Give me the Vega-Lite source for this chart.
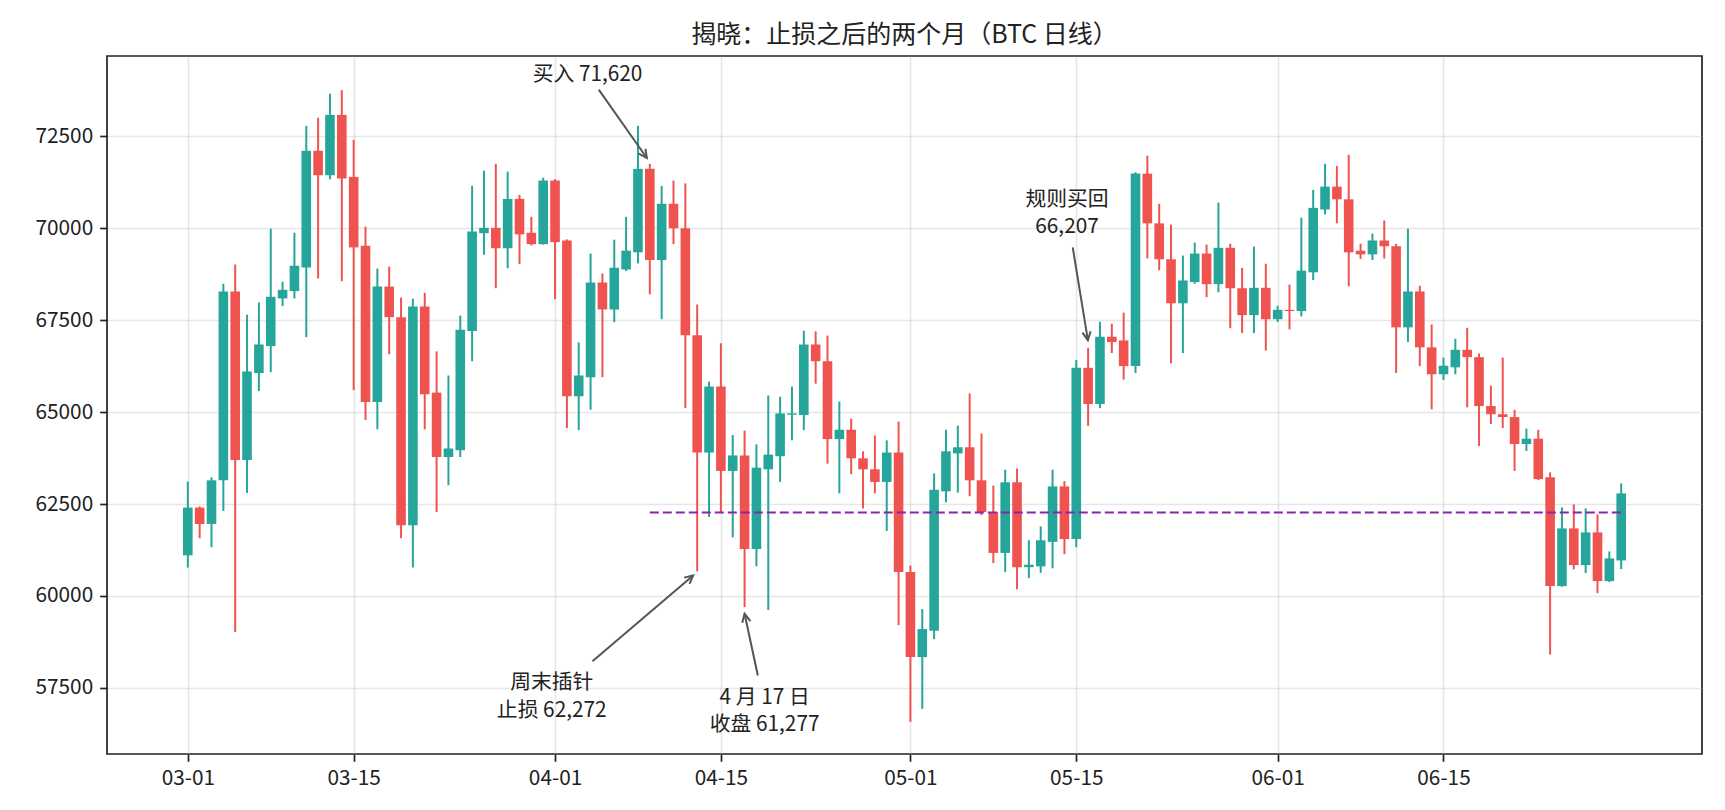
{
  "$schema": "https://vega.github.io/schema/vega-lite/v6.json",
  "width": 1595,
  "height": 698,
  "autosize": "none",
  "padding": {"left": 107, "top": 56, "right": 23, "bottom": 56},
  "background": "white",
  "title": {
    "text": "揭晓：止损之后的两个月（BTC 日线）",
    "font": "Noto Sans CJK SC",
    "fontSize": 25,
    "fontWeight": "normal",
    "color": "#222",
    "anchor": "middle",
    "offset": 8
  },
  "datasets": {
    "btc": [
      {"d": "2024-03-01", "o": 61104, "h": 63113, "l": 60772, "c": 62403},
      {"d": "2024-03-02", "o": 62403, "h": 62436, "l": 61570, "c": 61959},
      {"d": "2024-03-03", "o": 61959, "h": 63224, "l": 61326, "c": 63146},
      {"d": "2024-03-04", "o": 63146, "h": 68494, "l": 62314, "c": 68284},
      {"d": "2024-03-05", "o": 68284, "h": 69016, "l": 59018, "c": 63701},
      {"d": "2024-03-06", "o": 63701, "h": 67651, "l": 62802, "c": 66109},
      {"d": "2024-03-07", "o": 66064, "h": 67984, "l": 65576, "c": 66841},
      {"d": "2024-03-08", "o": 66797, "h": 69992, "l": 66086, "c": 68139},
      {"d": "2024-03-09", "o": 68095, "h": 68550, "l": 67884, "c": 68328},
      {"d": "2024-03-10", "o": 68295, "h": 69881, "l": 68095, "c": 68983},
      {"d": "2024-03-11", "o": 68938, "h": 72788, "l": 67041, "c": 72112},
      {"d": "2024-03-12", "o": 72112, "h": 73010, "l": 68639, "c": 71446},
      {"d": "2024-03-13", "o": 71446, "h": 73665, "l": 71335, "c": 73088},
      {"d": "2024-03-14", "o": 73088, "h": 73765, "l": 68561, "c": 71357},
      {"d": "2024-03-15", "o": 71401, "h": 72411, "l": 65598, "c": 69482},
      {"d": "2024-03-16", "o": 69526, "h": 70048, "l": 64788, "c": 65277},
      {"d": "2024-03-17", "o": 65277, "h": 68905, "l": 64533, "c": 68417},
      {"d": "2024-03-18", "o": 68417, "h": 68960, "l": 66575, "c": 67585},
      {"d": "2024-03-19", "o": 67585, "h": 68117, "l": 61570, "c": 61926},
      {"d": "2024-03-20", "o": 61926, "h": 68084, "l": 60772, "c": 67873},
      {"d": "2024-03-21", "o": 67873, "h": 68250, "l": 64533, "c": 65487},
      {"d": "2024-03-22", "o": 65532, "h": 66652, "l": 62281, "c": 63779},
      {"d": "2024-03-23", "o": 63779, "h": 65998, "l": 63013, "c": 64012},
      {"d": "2024-03-24", "o": 63967, "h": 67629, "l": 63779, "c": 67241},
      {"d": "2024-03-25", "o": 67207, "h": 71157, "l": 66386, "c": 69915},
      {"d": "2024-03-26", "o": 69870, "h": 71568, "l": 69282, "c": 70014},
      {"d": "2024-03-27", "o": 70014, "h": 71757, "l": 68372, "c": 69460},
      {"d": "2024-03-28", "o": 69460, "h": 71546, "l": 68916, "c": 70802},
      {"d": "2024-03-29", "o": 70802, "h": 70913, "l": 69027, "c": 69837},
      {"d": "2024-03-30", "o": 69881, "h": 70314, "l": 69537, "c": 69571},
      {"d": "2024-03-31", "o": 69571, "h": 71379, "l": 69560, "c": 71302},
      {"d": "2024-04-01", "o": 71302, "h": 71340, "l": 68073, "c": 69626},
      {"d": "2024-04-02", "o": 69670, "h": 69700, "l": 64567, "c": 65432},
      {"d": "2024-04-03", "o": 65432, "h": 66897, "l": 64511, "c": 65998},
      {"d": "2024-04-04", "o": 65953, "h": 69315, "l": 65066, "c": 68528},
      {"d": "2024-04-05", "o": 68528, "h": 68772, "l": 65953, "c": 67795},
      {"d": "2024-04-06", "o": 67795, "h": 69693, "l": 67451, "c": 68927},
      {"d": "2024-04-07", "o": 68883, "h": 70314, "l": 68838, "c": 69393},
      {"d": "2024-04-08", "o": 69349, "h": 72788, "l": 69049, "c": 71620},
      {"d": "2024-04-09", "o": 71620, "h": 71757, "l": 68206, "c": 69138},
      {"d": "2024-04-10", "o": 69138, "h": 71157, "l": 67529, "c": 70669},
      {"d": "2024-04-11", "o": 70669, "h": 71302, "l": 69571, "c": 70003},
      {"d": "2024-04-12", "o": 70003, "h": 71224, "l": 65110, "c": 67096},
      {"d": "2024-04-13", "o": 67096, "h": 67928, "l": 60672, "c": 63901},
      {"d": "2024-04-14", "o": 63901, "h": 65831, "l": 62148, "c": 65698},
      {"d": "2024-04-15", "o": 65698, "h": 66874, "l": 62270, "c": 63401},
      {"d": "2024-04-16", "o": 63401, "h": 64378, "l": 61593, "c": 63823},
      {"d": "2024-04-17", "o": 63823, "h": 64500, "l": 59695, "c": 61277},
      {"d": "2024-04-18", "o": 61277, "h": 64123, "l": 60805, "c": 63490},
      {"d": "2024-04-19", "o": 63446, "h": 65454, "l": 59617, "c": 63845},
      {"d": "2024-04-20", "o": 63801, "h": 65421, "l": 63102, "c": 64966},
      {"d": "2024-04-21", "o": 64930, "h": 65698, "l": 64234, "c": 64966},
      {"d": "2024-04-22", "o": 64922, "h": 67218, "l": 64511, "c": 66841},
      {"d": "2024-04-23", "o": 66841, "h": 67196, "l": 65776, "c": 66386},
      {"d": "2024-04-24", "o": 66386, "h": 67085, "l": 63601, "c": 64267},
      {"d": "2024-04-25", "o": 64267, "h": 65288, "l": 62791, "c": 64522},
      {"d": "2024-04-26", "o": 64522, "h": 64822, "l": 63313, "c": 63745},
      {"d": "2024-04-27", "o": 63745, "h": 63934, "l": 62380, "c": 63446},
      {"d": "2024-04-28", "o": 63446, "h": 64367, "l": 62791, "c": 63102},
      {"d": "2024-04-29", "o": 63102, "h": 64234, "l": 61770, "c": 63901},
      {"d": "2024-04-30", "o": 63901, "h": 64744, "l": 59207, "c": 60650},
      {"d": "2024-05-01", "o": 60650, "h": 60827, "l": 56574, "c": 58336},
      {"d": "2024-05-02", "o": 58336, "h": 59643, "l": 56928, "c": 59099},
      {"d": "2024-05-03", "o": 59052, "h": 63335, "l": 58826, "c": 62891},
      {"d": "2024-05-04", "o": 62846, "h": 64522, "l": 62547, "c": 63934},
      {"d": "2024-05-05", "o": 63878, "h": 64633, "l": 62813, "c": 64045},
      {"d": "2024-05-06", "o": 64045, "h": 65510, "l": 62713, "c": 63146},
      {"d": "2024-05-07", "o": 63146, "h": 64422, "l": 62200, "c": 62281},
      {"d": "2024-05-08", "o": 62281, "h": 63002, "l": 60894, "c": 61171},
      {"d": "2024-05-09", "o": 61171, "h": 63435, "l": 60650, "c": 63091},
      {"d": "2024-05-10", "o": 63091, "h": 63468, "l": 60183, "c": 60783},
      {"d": "2024-05-11", "o": 60783, "h": 61515, "l": 60483, "c": 60849},
      {"d": "2024-05-12", "o": 60805, "h": 61892, "l": 60627, "c": 61515},
      {"d": "2024-05-13", "o": 61471, "h": 63435, "l": 60750, "c": 62980},
      {"d": "2024-05-14", "o": 62980, "h": 63124, "l": 61138, "c": 61548},
      {"d": "2024-05-15", "o": 61548, "h": 66419, "l": 61326, "c": 66207},
      {"d": "2024-05-16", "o": 66207, "h": 66752, "l": 64622, "c": 65221},
      {"d": "2024-05-17", "o": 65221, "h": 67462, "l": 65110, "c": 67052},
      {"d": "2024-05-18", "o": 67052, "h": 67407, "l": 66608, "c": 66908},
      {"d": "2024-05-19", "o": 66952, "h": 67707, "l": 65887, "c": 66253},
      {"d": "2024-05-20", "o": 66253, "h": 71524, "l": 66064, "c": 71490},
      {"d": "2024-05-21", "o": 71490, "h": 71978, "l": 69182, "c": 70137},
      {"d": "2024-05-22", "o": 70137, "h": 70669, "l": 68861, "c": 69160},
      {"d": "2024-05-23", "o": 69160, "h": 70103, "l": 66331, "c": 67962},
      {"d": "2024-05-24", "o": 67962, "h": 69260, "l": 66608, "c": 68583},
      {"d": "2024-05-25", "o": 68539, "h": 69615, "l": 68494, "c": 69316},
      {"d": "2024-05-26", "o": 69316, "h": 69560, "l": 68128, "c": 68483},
      {"d": "2024-05-27", "o": 68483, "h": 70702, "l": 68261, "c": 69471},
      {"d": "2024-05-28", "o": 69471, "h": 69582, "l": 67285, "c": 68372},
      {"d": "2024-05-29", "o": 68372, "h": 68927, "l": 67152, "c": 67640},
      {"d": "2024-05-30", "o": 67640, "h": 69504, "l": 67152, "c": 68383},
      {"d": "2024-05-31", "o": 68383, "h": 69038, "l": 66675, "c": 67529},
      {"d": "2024-06-01", "o": 67529, "h": 67895, "l": 67451, "c": 67784},
      {"d": "2024-06-02", "o": 67784, "h": 68472, "l": 67252, "c": 67751},
      {"d": "2024-06-03", "o": 67751, "h": 70292, "l": 67607, "c": 68849},
      {"d": "2024-06-04", "o": 68805, "h": 71046, "l": 68594, "c": 70558},
      {"d": "2024-06-05", "o": 70514, "h": 71757, "l": 70381, "c": 71135},
      {"d": "2024-06-06", "o": 71135, "h": 71701, "l": 70137, "c": 70791},
      {"d": "2024-06-07", "o": 70791, "h": 72001, "l": 68428, "c": 69349},
      {"d": "2024-06-08", "o": 69393, "h": 69582, "l": 69171, "c": 69293},
      {"d": "2024-06-09", "o": 69293, "h": 69859, "l": 69138, "c": 69671},
      {"d": "2024-06-10", "o": 69671, "h": 70214, "l": 69182, "c": 69515},
      {"d": "2024-06-11", "o": 69515, "h": 69582, "l": 66064, "c": 67307},
      {"d": "2024-06-12", "o": 67307, "h": 69992, "l": 66908, "c": 68284},
      {"d": "2024-06-13", "o": 68284, "h": 68439, "l": 66253, "c": 66763},
      {"d": "2024-06-14", "o": 66763, "h": 67385, "l": 65077, "c": 66031},
      {"d": "2024-06-15", "o": 66031, "h": 66486, "l": 65876, "c": 66264},
      {"d": "2024-06-16", "o": 66220, "h": 66996, "l": 66031, "c": 66697},
      {"d": "2024-06-17", "o": 66697, "h": 67296, "l": 65132, "c": 66497},
      {"d": "2024-06-18", "o": 66497, "h": 66597, "l": 64078, "c": 65166},
      {"d": "2024-06-19", "o": 65166, "h": 65720, "l": 64677, "c": 64944},
      {"d": "2024-06-20", "o": 64944, "h": 66486, "l": 64567, "c": 64866},
      {"d": "2024-06-21", "o": 64866, "h": 65066, "l": 63401, "c": 64134},
      {"d": "2024-06-22", "o": 64134, "h": 64555, "l": 63945, "c": 64278},
      {"d": "2024-06-23", "o": 64278, "h": 64522, "l": 63150, "c": 63179},
      {"d": "2024-06-24", "o": 63226, "h": 63362, "l": 58408, "c": 60268},
      {"d": "2024-06-25", "o": 60268, "h": 62409, "l": 60250, "c": 61838},
      {"d": "2024-06-26", "o": 61838, "h": 62491, "l": 60722, "c": 60839},
      {"d": "2024-06-27", "o": 60839, "h": 62382, "l": 60622, "c": 61729},
      {"d": "2024-06-28", "o": 61729, "h": 62219, "l": 60077, "c": 60404},
      {"d": "2024-06-29", "o": 60404, "h": 61211, "l": 60377, "c": 61021},
      {"d": "2024-06-30", "o": 60966, "h": 63063, "l": 60731, "c": 62790}
    ],
    "stop": [
      {"x": "2024-04-09", "x2": "2024-06-30", "y": 62272}
    ],
    "arrows": [
      {"id": "buy", "x": "2024-04-04T16:34:00Z", "y": 73777, "x2": "2024-04-08T18:00:00Z", "y2": 71915},
      {"id": "wick", "x": "2024-04-04T03:50:00Z", "y": 58224, "x2": "2024-04-12T15:50:00Z", "y2": 60558},
      {"id": "close", "x": "2024-04-18T02:53:00Z", "y": 57835, "x2": "2024-04-17T00:00:00Z", "y2": 59515},
      {"id": "rebuy", "x": "2024-05-14T16:48:00Z", "y": 69483, "x2": "2024-05-15T23:31:00Z", "y2": 66958}
    ],
    "notes": [
      {"x": "2024-04-03T17:46:00Z", "y": 74170, "t": "买入 71,620"},
      {"x": "2024-03-31T17:17:00Z", "y": 57625, "t": "周末插针"},
      {"x": "2024-03-31T17:17:00Z", "y": 56882, "t": "止损 62,272"},
      {"x": "2024-04-18T16:34:00Z", "y": 57228, "t": "4 月 17 日"},
      {"x": "2024-04-18T16:34:00Z", "y": 56492, "t": "收盘 61,277"},
      {"x": "2024-05-14T05:17:00Z", "y": 70785, "t": "规则买回"},
      {"x": "2024-05-14T05:17:00Z", "y": 70033, "t": "66,207"}
    ]
  },
  "layer": [
    {
      "data": {"name": "btc"},
      "mark": {"type": "rule", "strokeWidth": 2},
      "encoding": {
        "x": {
          "field": "d",
          "type": "temporal",
          "title": null,
          "scale": {
            "type": "utc",
            "domain": [
              {"year": 2024, "month": 2, "date": 23, "hours": 14, "minutes": 24, "utc": true},
              {"year": 2024, "month": 7, "date": 6, "hours": 9, "minutes": 36, "utc": true}
            ]
          },
          "axis": {
            "format": "%m-%d",
            "values": [
              {"year": 2024, "month": 3, "date": 1, "utc": true},
              {"year": 2024, "month": 3, "date": 15, "utc": true},
              {"year": 2024, "month": 4, "date": 1, "utc": true},
              {"year": 2024, "month": 4, "date": 15, "utc": true},
              {"year": 2024, "month": 5, "date": 1, "utc": true},
              {"year": 2024, "month": 5, "date": 15, "utc": true},
              {"year": 2024, "month": 6, "date": 1, "utc": true},
              {"year": 2024, "month": 6, "date": 15, "utc": true}
            ]
          }
        },
        "y": {
          "field": "l",
          "type": "quantitative",
          "title": null,
          "scale": {"domain": [55700, 74690], "nice": false, "zero": false},
          "axis": {"values": [57500, 60000, 62500, 65000, 67500, 70000, 72500], "format": "d"}
        },
        "y2": {"field": "h"},
        "color": {"condition": {"test": "datum.c >= datum.o", "value": "#26a69a"}, "value": "#ef5350"}
      }
    },
    {
      "data": {"name": "btc"},
      "mark": {"type": "bar", "size": 9.6},
      "encoding": {
        "x": {"field": "d", "type": "temporal", "title": null, "scale": {"type": "utc"}},
        "y": {"field": "o", "type": "quantitative", "title": null},
        "y2": {"field": "c"},
        "color": {"condition": {"test": "datum.c >= datum.o", "value": "#26a69a"}, "value": "#ef5350"}
      }
    },
    {
      "data": {"name": "stop"},
      "mark": {"type": "rule", "color": "#8e24aa", "strokeWidth": 2, "strokeDash": [9, 4]},
      "encoding": {
        "x": {"field": "x", "type": "temporal", "title": null, "scale": {"type": "utc"}},
        "x2": {"field": "x2"},
        "y": {"field": "y", "type": "quantitative", "title": null}
      }
    },
    {
      "data": {"name": "arrows"},
      "mark": {"type": "rule", "color": "#555", "strokeWidth": 2},
      "encoding": {
        "x": {"field": "x", "type": "temporal", "title": null, "scale": {"type": "utc"}},
        "x2": {"field": "x2"},
        "y": {"field": "y", "type": "quantitative", "title": null},
        "y2": {"field": "y2"}
      }
    },
    {
      "data": {"name": "arrows"},
      "transform": [{"filter": "datum.id == 'buy'"}],
      "mark": {"type": "point", "shape": "M -0.5 1 L 0 0 L 0.5 1", "filled": false, "color": "#555", "strokeWidth": 2, "size": 276, "angle": 144.7, "opacity": 1},
      "encoding": {
        "x": {"field": "x2", "type": "temporal", "title": null, "scale": {"type": "utc"}},
        "y": {"field": "y2", "type": "quantitative", "title": null}
      }
    },
    {
      "data": {"name": "arrows"},
      "transform": [{"filter": "datum.id == 'wick'"}],
      "mark": {"type": "point", "shape": "M -0.5 1 L 0 0 L 0.5 1", "filled": false, "color": "#555", "strokeWidth": 2, "size": 276, "angle": 49.7, "opacity": 1},
      "encoding": {
        "x": {"field": "x2", "type": "temporal", "title": null, "scale": {"type": "utc"}},
        "y": {"field": "y2", "type": "quantitative", "title": null}
      }
    },
    {
      "data": {"name": "arrows"},
      "transform": [{"filter": "datum.id == 'close'"}],
      "mark": {"type": "point", "shape": "M -0.5 1 L 0 0 L 0.5 1", "filled": false, "color": "#555", "strokeWidth": 2, "size": 276, "angle": 347.8, "opacity": 1},
      "encoding": {
        "x": {"field": "x2", "type": "temporal", "title": null, "scale": {"type": "utc"}},
        "y": {"field": "y2", "type": "quantitative", "title": null}
      }
    },
    {
      "data": {"name": "arrows"},
      "transform": [{"filter": "datum.id == 'rebuy'"}],
      "mark": {"type": "point", "shape": "M -0.5 1 L 0 0 L 0.5 1", "filled": false, "color": "#555", "strokeWidth": 2, "size": 276, "angle": 170.6, "opacity": 1},
      "encoding": {
        "x": {"field": "x2", "type": "temporal", "title": null, "scale": {"type": "utc"}},
        "y": {"field": "y2", "type": "quantitative", "title": null}
      }
    },
    {
      "data": {"name": "notes"},
      "mark": {"type": "text", "font": "Noto Sans CJK SC", "fontSize": 20.8, "color": "#222", "align": "center", "baseline": "middle"},
      "encoding": {
        "x": {"field": "x", "type": "temporal", "title": null, "scale": {"type": "utc"}},
        "y": {"field": "y", "type": "quantitative", "title": null},
        "text": {"field": "t"}
      }
    }
  ],
  "config": {
    "font": "Noto Sans CJK SC",
    "view": {"stroke": "#222", "strokeWidth": 1.7},
    "axis": {
      "domain": false,
      "grid": true,
      "gridColor": "#b0b0b0",
      "gridOpacity": 0.3,
      "gridWidth": 1.6,
      "tickColor": "#222",
      "tickWidth": 1.7,
      "tickSize": 7.3,
      "labelFont": "Noto Sans CJK SC",
      "labelFontSize": 20.8,
      "labelColor": "#222",
      "labelPadding": 7,
      "labelOverlap": false,
      "labelFlush": false,
      "zindex": 1
    }
  }
}
